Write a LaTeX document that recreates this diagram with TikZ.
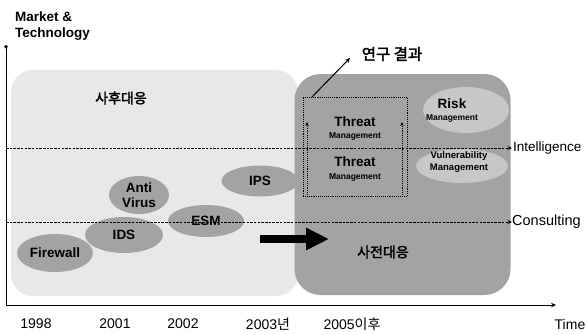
\documentclass[tikz,border=0pt]{standalone}
\usepackage{fontspec}
\setmainfont{Liberation Sans}
\newfontfamily\kr{Noto Sans CJK KR}[AutoFakeBold=2.5]
\usetikzlibrary{arrows.meta,shapes.geometric}
\begin{document}
\begin{tikzpicture}[x=1pt,y=-1pt,
  blob/.style={ellipse, fill=black!36, inner sep=0pt, align=center,
    font=\bfseries\fontsize{13.5}{15}\selectfont},
  lightblob/.style={ellipse, fill=black!22, inner sep=0pt},
  big/.style={font=\bfseries\fontsize{13.5}{14}\selectfont, inner sep=0pt},
  small/.style={font=\bfseries\fontsize{8.5}{9}\selectfont, inner sep=0pt},
  year/.style={font=\fontsize{14}{14}\selectfont, inner sep=0pt},
  level/.style={dash pattern=on 2.5pt off 1.2pt, line width=0.8pt, -{Stealth[length=4.5pt,width=4pt]}},
  krb/.style={font=\kr\bfseries\fontsize{14}{14}\selectfont, inner sep=0pt}
]
\useasboundingbox (0,0) rectangle (587,335);

% light background region
\fill[black!9, rounded corners=22pt] (11,70) rectangle (298,296);

% big right region
\node (pro) [fill=black!36, rounded corners=26pt, minimum width=216pt, minimum height=221pt, inner sep=0pt] at (402.5,184.5) {};
\node (riskblob) [lightblob, minimum width=86pt, minimum height=46pt] at (466,110) {};
\node (vulblob) [lightblob, minimum width=92pt, minimum height=34pt] at (462,166) {};

% ellipses
\node (ids) [blob, minimum width=78pt, minimum height=36pt] at (124,235) {IDS};
\node (fw) [blob, minimum width=76pt, minimum height=38pt] at (55,253) {Firewall};
\node (av) [blob, minimum width=60pt, minimum height=38pt] at (139,195) {Anti\\Virus};
\node (esm) [blob, minimum width=76pt, minimum height=32pt] at (206,221) {ESM};
\node (ips) [blob, minimum width=77pt, minimum height=31pt] at (260,181) {IPS};

% axes
\coordinate (ytop) at (6,45);
\coordinate (orig) at (6,305);
\coordinate (xend) at (556,305);
\draw[line width=0.9pt, {Circle[length=3.5pt]}-{Stealth[length=5pt,width=4.5pt]}] (ytop) -- (orig) -- (xend);

% level lines
\coordinate (il) at (6,148);
\coordinate (ir) at (512,148);
\coordinate (cl) at (6,222);
\coordinate (cr) at (512,222);
\draw[level] (il) -- (ir);
\draw[level] (cl) -- (cr);
\node (intel) [anchor=west, inner sep=0pt, font=\fontsize{13.5}{14}\selectfont] at (513,148) {Intelligence};
\node (cons) [anchor=west, inner sep=0pt, font=\fontsize{14.5}{15}\selectfont] at (512,222) {Consulting};

% research box
\node (tm) [draw, densely dotted, line width=0.9pt, minimum width=104pt, minimum height=99pt, inner sep=0pt] at (355,147) {};
\coordinate (la1) at (307,195);
\coordinate (la2) at (307,122);
\coordinate (ra1) at (402,195);
\coordinate (ra2) at (402,122);
\draw[densely dotted, line width=0.9pt, -{Stealth[length=4pt,width=3.5pt]}] (la1) -- (la2);
\draw[densely dotted, line width=0.9pt, -{Stealth[length=4pt,width=3.5pt]}] (ra1) -- (ra2);

\node (t1) [big] at (355,122) {Threat};
\node (m1) [small] at (355,136) {Management};
\node (t2) [big] at (355,162) {Threat};
\node (m2) [small] at (355,177) {Management};

\node (risk) [big] at (452,104) {Risk};
\node (m3) [small] at (452,118) {Management};
\node (vul) [small, font=\bfseries\fontsize{9.5}{10}\selectfont] at (459,156) {Vulnerability};
\node (m4) [small, font=\bfseries\fontsize{9.5}{10}\selectfont] at (459,168) {Management};

% research result label
\node (res) [krb, font=\kr\bfseries\fontsize{15.5}{16}\selectfont] at (392,54) {연구 결과};
\coordinate (rs) at (312,97);
\coordinate (re) at (350,58);
\draw[line width=1pt, -{Stealth[length=5pt,width=4.5pt]}] (rs) -- (re);

% big arrow
\coordinate (arrS) at (260,239);
\coordinate (arrE) at (329,239);
\draw[line width=8.5pt, -{Triangle[length=23pt,width=21pt]}] (arrS) -- (arrE);

% region labels
\node (post) [krb] at (121,98) {사후대응};
\node (pre) [krb] at (383,252) {사전대응};

% axis labels
\node (mk) [anchor=west, inner sep=0pt, font=\bfseries\fontsize{13.5}{14}\selectfont] at (15,17) {Market \&};
\node (tech) [anchor=west, inner sep=0pt, font=\bfseries\fontsize{13.5}{14}\selectfont] at (15,34) {Technology};

\node (y1) [year] at (36,324) {1998};
\node (y2) [year] at (115,324) {2001};
\node (y3) [year] at (183,324) {2002};
\node (y4) [year] at (268,324) {2003{\kr 년}};
\node (y5) [year] at (352,324) {2005{\kr 이후}};
\node (time) [year] at (570,324) {Time};
\end{tikzpicture}
\end{document}
